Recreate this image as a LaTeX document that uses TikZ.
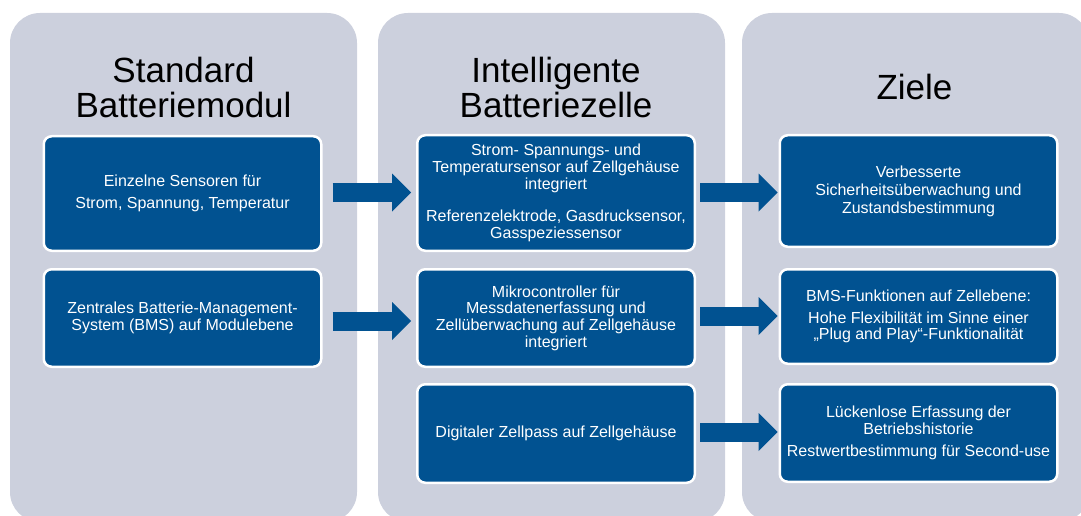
\documentclass[tikz,border=0pt]{standalone}
\usepackage{fontspec}
\setmainfont{Liberation Sans}
\usetikzlibrary{arrows.meta,calc}
\definecolor{panelcol}{RGB}{204,208,221}
\definecolor{boxcol}{RGB}{1,82,145}
\begin{document}
\begin{tikzpicture}[x=1pt,y=-1pt,
  panel/.style={fill=panelcol, rounded corners=30pt},
  box/.style={fill=boxcol, draw=white, line width=2.5pt, rounded corners=8pt,
    text=white, align=center, inner sep=0pt,
    font=\fontsize{16}{16.7}\selectfont, minimum width=277.5pt},
  head/.style={font=\fontsize{35}{35}\selectfont, align=center, inner sep=0pt, text=black},
  flow/.style={draw=boxcol, line width=19pt,
    -{Triangle[length=19pt,width=38pt,line width=0pt]}}]
\useasboundingbox (0,0) rectangle (1081,516);
\clip (0,0) rectangle (1081,516);
% panels
\fill[panel] (10,13) rectangle (357,522);
\fill[panel] (378,13) rectangle (725,522);
\fill[panel] (742,13) rectangle (1089,522);
% headings
\node[head] (h1) at (183.5,87.7) {Standard\\Batteriemodul};
\node[head] (h2) at (556,87.7) {Intelligente\\Batteriezelle};
\node[head, anchor=base] (h3) at (914.5,100) {Ziele};
% left boxes
\node[box, minimum height=114.5pt] (l1) at (182.5,193.5)
  {Einzelne Sensoren für\\[6pt]Strom, Spannung, Temperatur};
\node[box, minimum height=97.5pt] (l2) at (182.5,318)
  {Zentrales Batterie-Management-\\System (BMS) auf Modulebene};
% middle boxes
\node[box, minimum height=115.5pt] (m1) at (556,193)
  {Strom- Spannungs- und\\Temperatursensor auf Zellgehäuse\\integriert\\[15.5pt]Referenzelektrode, Gasdrucksensor,\\Gasspeziessensor};
\node[box, minimum height=97.5pt] (m2) at (556,318)
  {Mikrocontroller für\\Messdatenerfassung und\\Zellüberwachung auf Zellgehäuse\\integriert};
\node[box, minimum height=98.5pt] (m3) at (556,433.5)
  {Digitaler Zellpass auf Zellgehäuse};
% right boxes
\node[box, minimum height=111.5pt, font=\fontsize{16}{18}\selectfont] (r1) at (918.5,191)
  {Verbesserte\\Sicherheitsüberwachung und\\Zustandsbestimmung};
\node[box, minimum height=94.5pt] (r2) at (918.5,316.5)
  {BMS-Funktionen auf Zellebene:\\[5pt]Hohe Flexibilität im Sinne einer\\„Plug and Play“-Funktionalität};
\node[box, minimum height=97.5pt] (r3) at (918.5,433)
  {Lückenlose Erfassung der\\Betriebshistorie\\[5pt]Restwertbestimmung für Second-use};
% arrows
\draw[flow] ($(l1.east)+(10,-1)$) -- ($(l1.east -| m1.west)+(-5,-1)$);
\draw[flow] ($(l2.east)+(10,3)$) -- ($(l2.east -| m2.west)+(-5,3)$);
\draw[flow] ($(m1.east)+(4,-0.5)$) -- ($(m1.east -| r1.west)+(-1,-0.5)$);
\draw[flow] ($(m2.east)+(4,-2)$) -- ($(m2.east -| r2.west)+(-1,-2)$);
\draw[flow] ($(m3.east)+(4,-1.5)$) -- ($(m3.east -| r3.west)+(-1,-1.5)$);
\end{tikzpicture}
\end{document}
